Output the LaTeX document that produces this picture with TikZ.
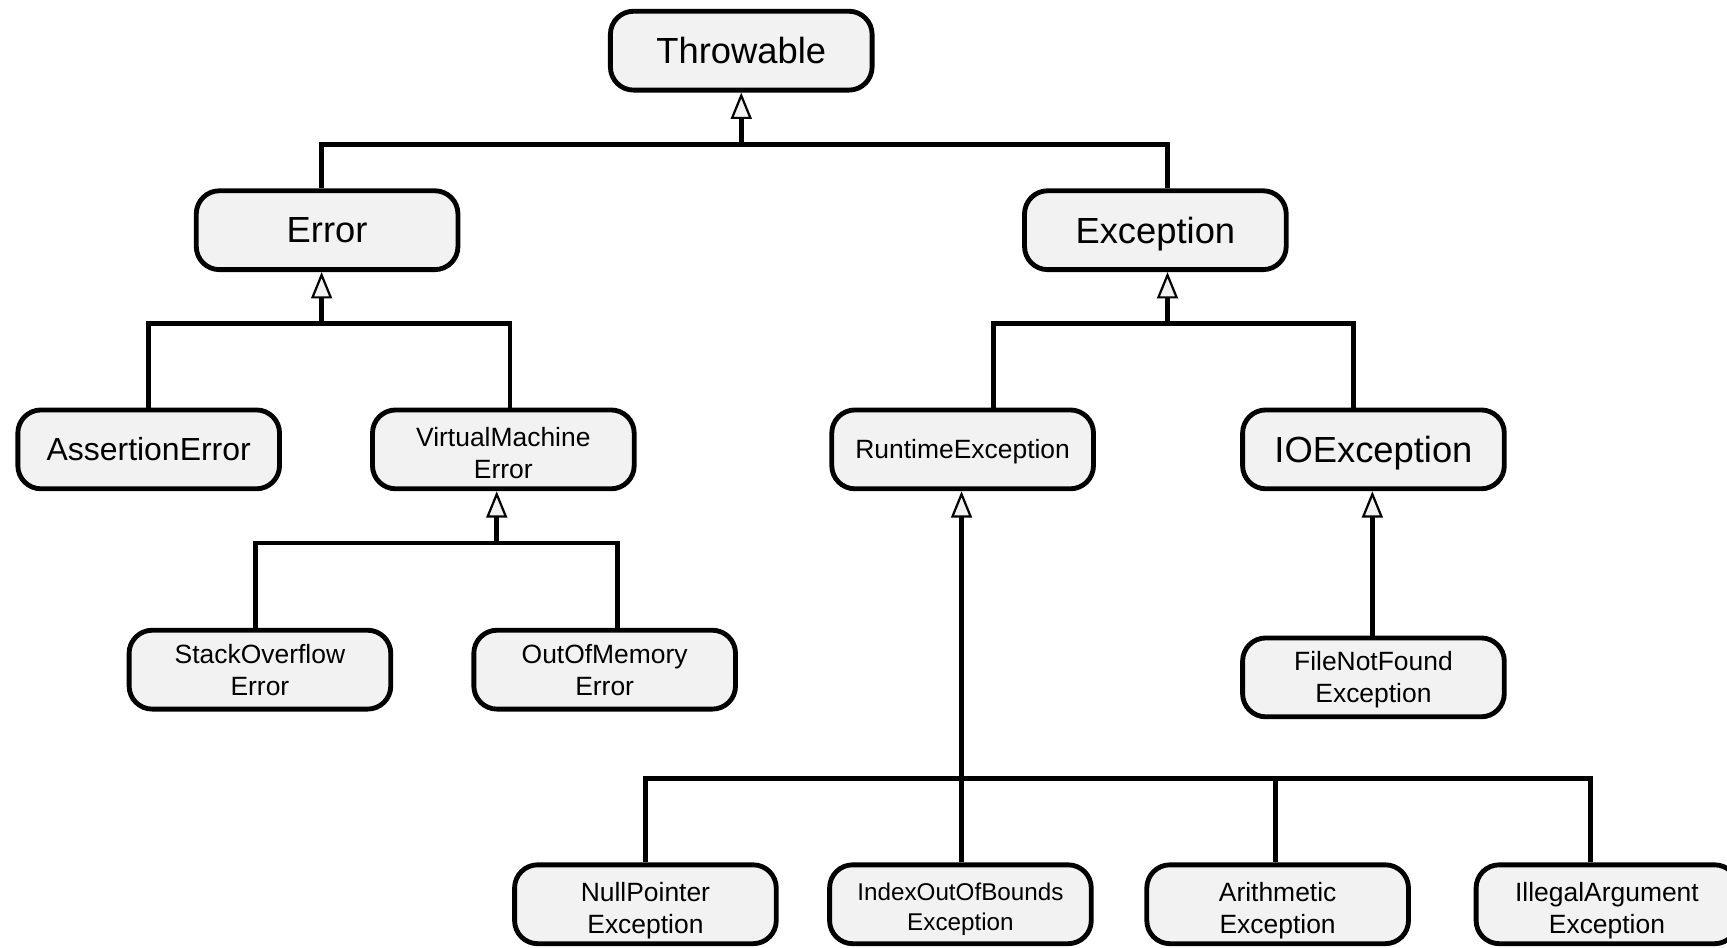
\documentclass[tikz,border=0pt]{standalone}
\usepackage{fontspec}
\setmainfont{Liberation Sans}
\usetikzlibrary{arrows.meta}
\definecolor{boxfill}{HTML}{F2F2F2}
\newcommand{\lift}[1]{\rule{0pt}{#1}}
\tikzset{
  cls/.style={draw, line width=4.4pt, fill=boxfill, rounded corners=21pt,
    minimum width=237.6pt, minimum height=71.6pt, align=center, inner sep=2pt},
  big/.style={font=\fontsize{33}{40}\selectfont},
  mid/.style={font=\fontsize{29}{35}\selectfont},
  small/.style={font=\fontsize{24}{29}\selectfont},
  tiny/.style={font=\fontsize{22}{27}\selectfont},
  nodepth/.style={text depth=0pt},
  conn/.style={line width=4.4pt, line join=miter},
  inh/.style={conn, -{Triangle[length=24pt,width=19pt,fill=boxfill,line width=2pt]}}
}
\begin{document}
\begin{tikzpicture}[x=1pt,y=-1pt]
\useasboundingbox (0,0) rectangle (1568,860);
\clip (0,0) rectangle (1568,860);
\fill[white] (0,0) rectangle (1568,860);

% nodes
\node[cls,big]   (thr) at (673,46)  {Throwable};
\node[cls,big]   (err) at (297,209) {Error};
\node[cls,big,nodepth] (exc) at (1049,209) {Exception};
\node[cls,mid]   (ass) at (135,408) {AssertionError};
\node[cls,small] (vme) at (457,408) {\lift{24pt}VirtualMachine\\Error};
\node[cls,small,nodepth] (rte) at (874,408) {RuntimeException};
\node[cls,big,nodepth]   (ioe) at (1247,408) {IOException};
\node[cls,small] (soe) at (236,608) {StackOverflow\\Error};
\node[cls,small] (oom) at (549,608) {OutOfMemory\\Error};
\node[cls,small,nodepth] (fnf) at (1247,615) {FileNotFound\\Exception};
\node[cls,small,nodepth] (npe) at (586,821) {\lift{24pt}NullPointer\\Exception};
\node[cls,tiny,nodepth]  (ioob) at (872,821) {\lift{21pt}IndexOutOfBounds\\Exception};
\node[cls,small,nodepth] (ari) at (1160,821) {\lift{24pt}Arithmetic\\Exception};
\node[cls,small,nodepth] (iae) at (1459,821) {\lift{24pt}IllegalArgument\\Exception};

% junctions
\coordinate (jT) at (673,131);
\coordinate (jE) at (292,294);
\coordinate (jX) at (1060,294);
\coordinate (jV) at (451,493);
\coordinate (jR) at (873,707);

% Throwable
\draw[conn] ([xshift=-5pt]err.north) |- (jT) -| ([xshift=11pt]exc.north);
\draw[inh] (jT) -- (thr.south);
% Error
\draw[conn] (ass.north) |- (jE) -| ([xshift=6pt]vme.north);
\draw[inh] (jE) -- ([xshift=-5pt]err.south);
% Exception
\draw[conn] ([xshift=28pt]rte.north) |- (jX) -| ([xshift=-18pt]ioe.north);
\draw[inh] (jX) -- ([xshift=11pt]exc.south);
% VirtualMachineError
\draw[conn] ([xshift=-4pt]soe.north) |- (jV) -| ([xshift=12pt]oom.north);
\draw[inh] (jV) -- ([xshift=-6pt]vme.south);
% IOException
\draw[inh] ([xshift=-1pt]fnf.north) -- ([xshift=-1pt]ioe.south);
% RuntimeException
\draw[conn] (npe.north) |- (jR) -| ([xshift=-15pt]iae.north);
\draw[conn] ([xshift=-2pt]ari.north) -- ([xshift=-2pt]ari.north |- jR);
\draw[inh] ([xshift=1pt]ioob.north) -- ([xshift=-1pt]rte.south);
\end{tikzpicture}
\end{document}
